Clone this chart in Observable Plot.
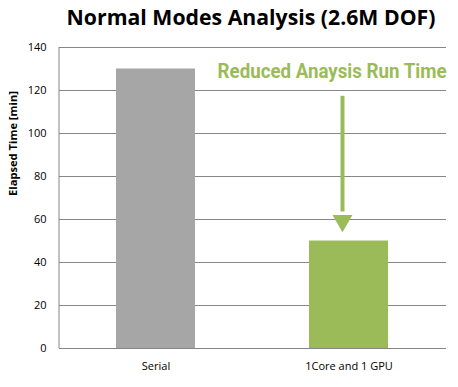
<!DOCTYPE html>
<html>
<head>
<meta charset="utf-8">
<script src="https://cdn.jsdelivr.net/npm/d3@7"></script>
<script src="https://cdn.jsdelivr.net/npm/@observablehq/plot@0.6"></script>
<style>
  html, body { margin: 0; padding: 0; background: #fff; }
</style>
</head>
<body>
<div id="chart"></div>
<script>
// ---- data ----
const categories = ["Serial", "1Core and 1 GPU"];
const elapsed = [130, 50];
const barColors = ["#A6A6A6", "#9BBB59"];
const yTicks = [0, 20, 40, 60, 80, 100, 120, 140];
const title = "Normal Modes Analysis (2.6M DOF)";
const yLabel = "Elapsed Time [min]";
const note = "Reduced Anaysis Run Time";
// annotation arrow (values on the y scale, at the GPU bar)
const arrowTarget = categories[1];
const arrowFrom = 117.3;
const arrowShaftEnd = 63.5;
const arrowHead = 59.4;

const green = "#9BBB59";
const gridColor = "#868686";
const font = "'Open Sans', 'Noto Sans', sans-serif";

const rows = categories.map((c, i) => ({cat: c, value: elapsed[i], color: barColors[i]}));

const axisLine = (index, scales, values, dim) => {
  const g = d3.create("svg:line")
    .attr("x1", dim.marginLeft).attr("x2", dim.marginLeft)
    .attr("y1", dim.marginTop).attr("y2", dim.height - dim.marginBottom)
    .attr("stroke", gridColor).attr("stroke-width", 1);
  return g.node();
};

const chart = Plot.plot({
  width: 458,
  height: 387,
  marginTop: 47,
  marginBottom: 39,
  marginLeft: 59,
  marginRight: 12,
  style: {fontFamily: font, fontSize: "11px", color: "#000", background: "#fff"},
  x: {domain: categories, paddingInner: 0.59, paddingOuter: 0.295, label: null},
  y: {domain: [0, 140], label: null},
  marks: [
    Plot.gridY(yTicks, {stroke: gridColor, strokeOpacity: 1, strokeWidth: 1}),
    axisLine,
    Plot.barY(rows, {x: "cat", y: "value", fill: "color"}),
    Plot.axisY(yTicks, {tickSize: 0, tickPadding: 13, label: null, fontSize: 11}),
    Plot.axisX({tickSize: 0, tickPadding: 14, label: null, fontSize: 11}),
    Plot.ruleX([arrowTarget], {x: d => d, y1: arrowFrom, y2: arrowShaftEnd, stroke: green, strokeWidth: 4, dx: -6.5}),
    Plot.dot([arrowTarget], {x: d => d, y: arrowHead, symbol: "triangle", rotate: 180, r: 7.4, fill: green, stroke: null, dx: -6.5}),
    Plot.text([title], {text: d => d, frameAnchor: "top", lineAnchor: "bottom", dx: -2, dy: -23, fontSize: 22, fontWeight: "bold", fill: "#000", className: "ttl"}),
    Plot.text([note], {text: d => d, frameAnchor: "top-right", textAnchor: "end", lineAnchor: "bottom", dx: 0, dy: 30, fontSize: 20, fontWeight: "bold", fill: green, className: "note", fontFamily: "'Liberation Sans Narrow', Roboto, sans-serif"}),
    Plot.text([yLabel], {text: d => d, frameAnchor: "left", rotate: -90, lineAnchor: "middle", dx: -46, dy: -2, fontSize: 11, fontWeight: "bold", fill: "#000", className: "ylab"})
  ]
});

document.getElementById("chart").appendChild(chart);

// squeeze texts horizontally to match the reference's condensed fonts
function fit(sel, target) {
  const node = d3.select(chart).select(sel).node();
  if (!node) return;
  const w = node.getComputedTextLength();
  if (!w) return;
  const sx = target / w;
  const t = node.getAttribute("transform");
  if (t) {
    node.setAttribute("transform", t + ` scale(${sx},1)`);
  } else {
    node.setAttribute("textLength", target);
    node.setAttribute("lengthAdjust", "spacingAndGlyphs");
  }
}
fit(".ttl text", 369);
fit(".note text", 229);
fit(".ylab text", 105);
</script>
</body>
</html>
